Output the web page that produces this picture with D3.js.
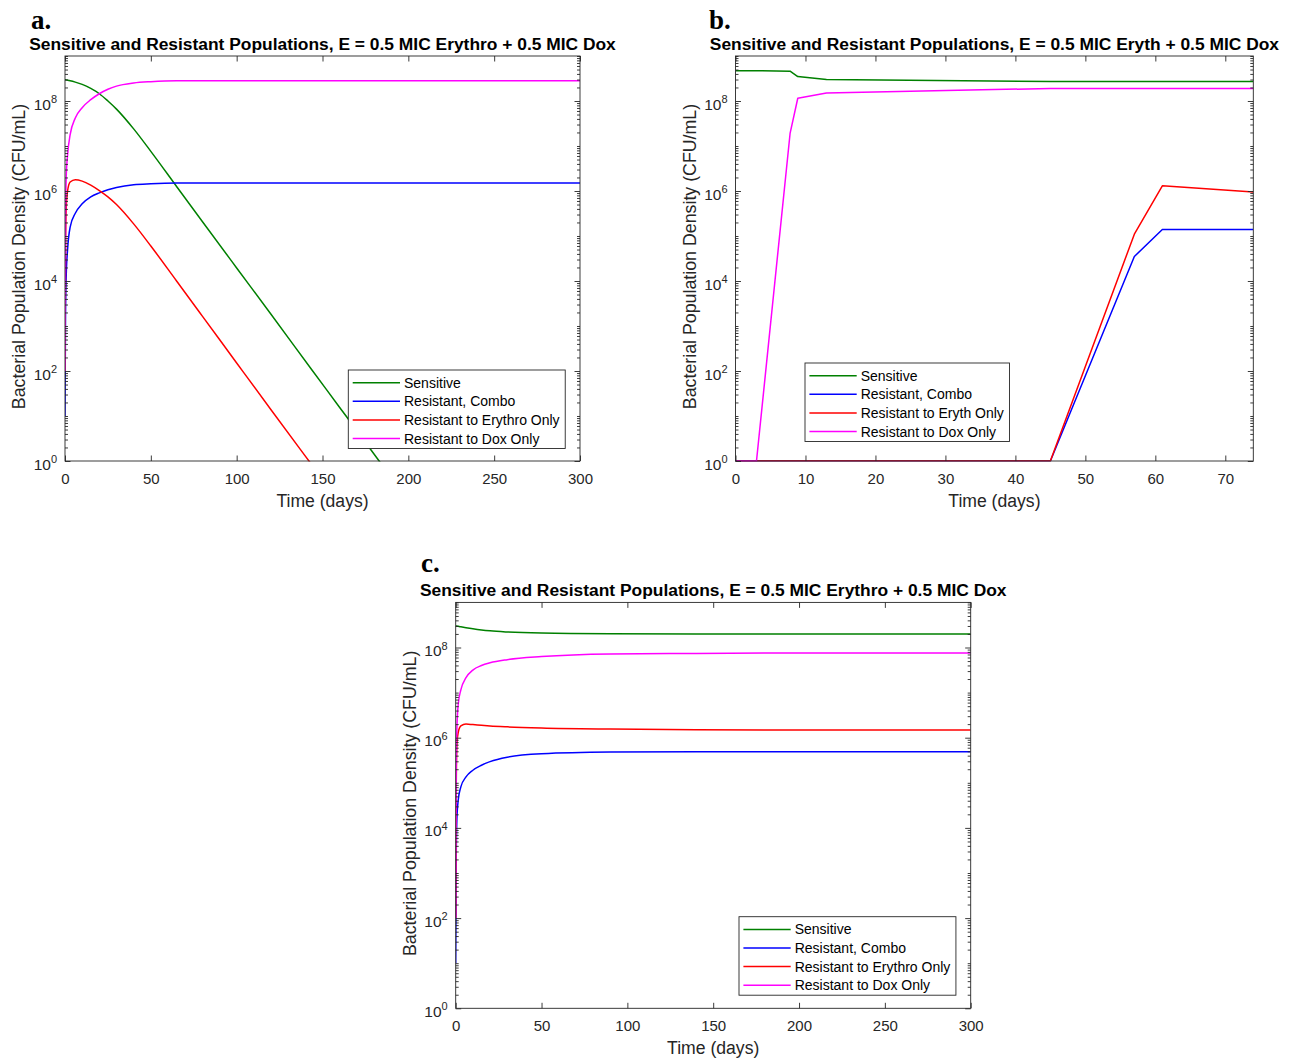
<!DOCTYPE html>
<html>
<head>
<meta charset="utf-8">
<script src="https://cdn.jsdelivr.net/npm/d3@7"></script>
<style>
  html, body { margin: 0; padding: 0; background: #fff; }
  svg { display: block; font-family: "Liberation Sans", Arial, Helvetica, sans-serif; }
</style>
</head>
<body>
<svg id="chart" width="1295" height="1059"></svg>
<script>
// ---------------- DATA ----------------
// Panel a (0-300 days)
const tA = [0, 0.3, 0.7, 1.5, 3, 6, 10, 15, 20, 25, 30, 40, 50, 65, 80, 100, 120, 143, 160, 183, 200, 300];
const sensitiveA = [2.95e8, 2.95e8, 2.94e8, 2.9e8, 2.82e8, 2.63e8, 2.34e8, 1.9e8, 1.45e8, 1.0e8, 6.6e7, 2.4e7, 7.6e6, 1.26e6, 2.1e5, 1.95e4, 1.82e3, 117, 15.5, 1, 0.13, 1e-6];
const comboA = [10, 1.6e3, 1.26e4, 5.0e4, 1.58e5, 3.2e5, 5.2e5, 7.4e5, 9.1e5, 1.07e6, 1.2e6, 1.38e6, 1.45e6, 1.5e6, 1.5e6, 1.5e6, 1.5e6, 1.5e6, 1.5e6, 1.5e6, 1.5e6, 1.5e6];
const erythroA = [100, 4.0e4, 4.0e5, 1.0e6, 1.58e6, 1.78e6, 1.66e6, 1.35e6, 1.02e6, 7.4e5, 5.0e5, 1.86e5, 6.0e4, 1.0e4, 1.66e3, 151, 13.8, 0.9, 0.12, 0.008, 0.001, 1e-8];
const doxA = [100, 2.0e5, 2.0e6, 6.3e6, 1.78e7, 4.2e7, 7.1e7, 1.07e8, 1.45e8, 1.82e8, 2.14e8, 2.51e8, 2.69e8, 2.82e8, 2.82e8, 2.82e8, 2.82e8, 2.82e8, 2.82e8, 2.82e8, 2.82e8, 2.82e8];

// Panel b (0-74 days)
const tB = [0, 3, 7.8, 8.9, 13, 45, 57, 61, 74];
const sensitiveB = [4.7e8, 4.7e8, 4.6e8, 3.5e8, 3.0e8, 2.7e8, 2.7e8, 2.7e8, 2.7e8];
const comboB = [1, 1, 1, 1, 1, 1, 3.5e4, 1.4e5, 1.4e5];
const erythB = [1, 1, 1, 1, 1, 1, 1.1e5, 1.3e6, 9.5e5];
const doxB = [1, 1, 1.9e7, 1.15e8, 1.5e8, 1.9e8, 1.9e8, 1.9e8, 1.9e8];

// Panel c (0-300 days)
const tC = [0, 0.3, 0.7, 1.5, 3, 6, 10, 15, 20, 30, 50, 90, 140, 200, 300];
const sensitiveC = [3.0e8, 3.0e8, 3.0e8, 2.95e8, 2.88e8, 2.75e8, 2.6e8, 2.45e8, 2.34e8, 2.21e8, 2.09e8, 2.02e8, 2.0e8, 2.0e8, 2.0e8];
const comboC = [10, 2.0e3, 1.58e4, 4.2e4, 8.1e4, 1.35e5, 1.9e5, 2.45e5, 2.95e5, 3.7e5, 4.4e5, 4.8e5, 4.9e5, 4.9e5, 4.9e5];
const erythroC = [100, 6.3e4, 7.1e5, 1.32e6, 1.82e6, 2.0e6, 1.95e6, 1.88e6, 1.82e6, 1.74e6, 1.64e6, 1.55e6, 1.5e6, 1.48e6, 1.48e6];
const doxC = [100, 1.6e5, 1.6e6, 5.6e6, 1.15e7, 2.14e7, 3.16e7, 3.98e7, 4.57e7, 5.37e7, 6.3e7, 7.2e7, 7.4e7, 7.6e7, 7.6e7];

// Ticks and labels
const xTicks300 = [0, 50, 100, 150, 200, 250, 300];
const xTicks74 = [0, 10, 20, 30, 40, 50, 60, 70];
const yTickExponents = [0, 2, 4, 6, 8];
const titleErythro = "Sensitive and Resistant Populations, E = 0.5 MIC Erythro + 0.5 MIC Dox";
const titleEryth = "Sensitive and Resistant Populations, E = 0.5 MIC Eryth + 0.5 MIC Dox";
const legendErythro = ["Sensitive", "Resistant, Combo", "Resistant to Erythro Only", "Resistant to Dox Only"];
const legendEryth = ["Sensitive", "Resistant, Combo", "Resistant to Eryth Only", "Resistant to Dox Only"];
const seriesColors = ["#008000", "#0000ff", "#ff0000", "#ff00ff"];
const xLabel = "Time (days)";
const yLabel = "Bacterial Population Density (CFU/mL)";

// ---------------- DRAW ----------------
const svg = d3.select("#chart");
const AX = "#262626";

const panels = [
  { id: "a", left: 65, right: 580, top: 56, bottom: 461, xmax: 300, xticks: xTicks300,
    t: tA, series: [sensitiveA, comboA, erythroA, doxA], title: titleErythro, legend: legendErythro,
    legendX: 348.3, legendY: 370, curve: d3.curveMonotoneX, letterX: 31, letterY: 29 },
  { id: "b", left: 735.5, right: 1253.3, top: 56, bottom: 461, xmax: 74, xticks: xTicks74,
    t: tB, series: [sensitiveB, comboB, erythB, doxB], title: titleEryth, legend: legendEryth,
    legendX: 805, legendY: 363, curve: d3.curveLinear, letterX: 709, letterY: 29 },
  { id: "c", left: 455.7, right: 970.7, top: 602.4, bottom: 1008.3, xmax: 300, xticks: xTicks300,
    t: tC, series: [sensitiveC, comboC, erythroC, doxC], title: titleErythro, legend: legendErythro,
    legendX: 739, legendY: 916.7, curve: d3.curveMonotoneX, letterX: 421, letterY: 572 }
];

// log minor ticks
const minorVals = [];
for (let e = 0; e <= 8; e++) {
  for (let m = 2; m <= 9; m++) minorVals.push(m * Math.pow(10, e));
}
[1, 3, 5, 7, 9].forEach(e => minorVals.push(Math.pow(10, e)));
const majorVals = yTickExponents.map(e => Math.pow(10, e));

panels.forEach(p => {
  const g = svg.append("g");
  const x = d3.scaleLinear().domain([0, p.xmax]).range([p.left, p.right]);
  const y = d3.scaleLog().domain([1, 1e9]).range([p.bottom, p.top]);

  const clipId = "clip-" + p.id;
  svg.append("defs").append("clipPath").attr("id", clipId)
    .append("rect").attr("x", p.left).attr("y", p.top - 1)
    .attr("width", p.right - p.left).attr("height", p.bottom - p.top + 1.5);

  // lines
  const lg = g.append("g").attr("clip-path", `url(#${clipId})`);
  p.series.forEach((vals, i) => {
    const data = p.t.map((tt, k) => [tt, vals[k]]);
    const line = d3.line().x(d => x(d[0])).y(d => y(d[1])).curve(p.curve);
    lg.append("path").attr("d", line(data)).attr("fill", "none")
      .attr("stroke", seriesColors[i]).attr("stroke-width", 1.5)
      .attr("stroke-linejoin", "round");
  });

  // axes ticks (inward)
  const styleAxis = sel => {
    sel.select(".domain").remove();
    sel.selectAll(".tick line").attr("stroke", AX).attr("stroke-width", 0.9);
    sel.selectAll(".tick text").attr("fill", AX).attr("font-size", 15)
      .attr("font-family", '"Liberation Sans", Arial, sans-serif');
  };
  g.append("g").attr("transform", `translate(0,${p.bottom})`)
    .call(d3.axisBottom(x).tickValues(p.xticks).tickSizeInner(-5.5).tickSizeOuter(0).tickPadding(12.5))
    .call(styleAxis);
  g.append("g").attr("transform", `translate(0,${p.top})`)
    .call(d3.axisTop(x).tickValues(p.xticks).tickSizeInner(-5.5).tickSizeOuter(0).tickFormat(""))
    .call(styleAxis);
  g.append("g").attr("transform", `translate(${p.left},0)`)
    .call(d3.axisLeft(y).tickValues(majorVals).tickSizeInner(-5.5).tickSizeOuter(0).tickFormat(""))
    .call(styleAxis);
  g.append("g").attr("transform", `translate(${p.left},0)`)
    .call(d3.axisLeft(y).tickValues(minorVals).tickSizeInner(-3).tickSizeOuter(0).tickFormat(""))
    .call(styleAxis);
  g.append("g").attr("transform", `translate(${p.right},0)`)
    .call(d3.axisRight(y).tickValues(majorVals).tickSizeInner(-5.5).tickSizeOuter(0).tickFormat(""))
    .call(styleAxis);
  g.append("g").attr("transform", `translate(${p.right},0)`)
    .call(d3.axisRight(y).tickValues(minorVals).tickSizeInner(-3).tickSizeOuter(0).tickFormat(""))
    .call(styleAxis);

  // y tick labels with superscripts
  yTickExponents.forEach(e => {
    const ty = y(Math.pow(10, e));
    const txt = g.append("text").attr("x", p.left - 8).attr("y", ty + 8.5)
      .attr("text-anchor", "end").attr("fill", AX).attr("font-size", 15.5);
    txt.append("tspan").text("10");
    txt.append("tspan").attr("font-size", 11).attr("dy", -6.5).text(String(e));
  });

  // box
  g.append("rect").attr("x", p.left).attr("y", p.top)
    .attr("width", p.right - p.left).attr("height", p.bottom - p.top)
    .attr("fill", "none").attr("stroke", AX).attr("stroke-width", 0.9);

  // axis labels
  g.append("text").attr("x", (p.left + p.right) / 2).attr("y", p.bottom + 45.5)
    .attr("text-anchor", "middle").attr("fill", AX).attr("font-size", 17.6).text(xLabel);
  g.append("text")
    .attr("transform", `translate(${p.left - 40},${(p.top + p.bottom) / 2 - 2}) rotate(-90)`)
    .attr("text-anchor", "middle").attr("fill", AX).attr("font-size", 17.8).text(yLabel);

  // title
  g.append("text").attr("x", (p.left + p.right) / 2).attr("y", p.top - 6.5)
    .attr("text-anchor", "middle").attr("fill", "#000").attr("font-size", 17.4)
    .attr("font-weight", "bold").text(p.title);

  // panel letter
  g.append("text").attr("x", p.letterX).attr("y", p.letterY)
    .attr("font-family", '"Liberation Serif", "Times New Roman", serif')
    .attr("font-weight", "bold").attr("font-size", 27).attr("fill", "#000")
    .text(p.id + ".");

  // legend
  const leg = g.append("g");
  const box = leg.append("rect").attr("x", p.legendX).attr("y", p.legendY)
    .attr("height", 78.5).attr("fill", "#fff").attr("stroke", AX).attr("stroke-width", 0.9);
  let maxW = 0;
  p.legend.forEach((lab, i) => {
    const ry = p.legendY + 12.7 + i * 18.6;
    leg.append("line").attr("x1", p.legendX + 4.4).attr("x2", p.legendX + 51.7)
      .attr("y1", ry).attr("y2", ry).attr("stroke", seriesColors[i]).attr("stroke-width", 1.5);
    const tx = leg.append("text").attr("x", p.legendX + 55.7).attr("y", ry + 5)
      .attr("fill", "#000").attr("font-size", 14).text(lab);
    maxW = Math.max(maxW, tx.node().getComputedTextLength());
  });
  box.attr("width", 55.7 + maxW + 5.6);
});
</script>
</body>
</html>
